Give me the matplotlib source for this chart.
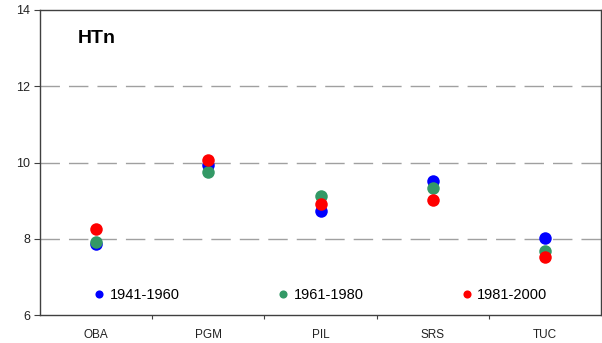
import matplotlib
matplotlib.use("Agg")
import matplotlib.pyplot as plt
import numpy as np

plt.rcParams['font.family'] = ['Liberation Sans', 'DejaVu Sans']

categories = ["OBA", "PGM", "PIL", "SRS", "TUC"]
series_names = ["1941-1960", "1961-1980", "1981-2000"]
v1941 = [7.86, 9.94, 8.74, 9.52, 8.01]
v1961 = [7.91, 9.76, 9.13, 9.34, 7.68]
v1981 = [8.25, 10.07, 8.90, 9.01, 7.53]
colors = ["#0000FF", "#339966", "#FF0000"]
yticks = [6, 8, 10, 12, 14]

fig = plt.figure(figsize=(6.02, 3.43), dpi=100)
ax = fig.add_axes([40/602, 1-315/343, 561/602, 305/343])

x = np.arange(len(categories))
for vals, c, name in zip([v1941, v1961, v1981], colors, series_names):
    ax.plot(x, vals, 'o', color=c, markersize=9, markeredgewidth=0, label=name, zorder=3)

ax.set_xlim(-0.5, len(categories) - 0.5)
ax.set_ylim(6, 14)
ax.set_yticks(yticks)
ax.set_yticklabels([str(t) for t in yticks], fontsize=9, color="#222222")
ax.set_xticks(np.arange(0.5, len(categories) - 1, 1))
ax.set_xticklabels([])
ax.set_xticks(x, minor=True)
ax.set_xticklabels(categories, minor=True, fontsize=8.5, color="#222222")
ax.tick_params(axis='x', which='minor', length=0, pad=10)
ax.tick_params(axis='x', which='major', length=3, direction='out', color="#404040")
ax.tick_params(axis='y', length=4, direction='out', color="#404040", pad=3)

for yv in [8, 10, 12]:
    ax.axhline(yv, color="#a0a0a0", linewidth=1.0, dashes=(14, 6.5), zorder=1)

for s in ax.spines.values():
    s.set_color("#404040")
    s.set_linewidth(1.0)

ax.text(0.068, 0.935, "HTn", transform=ax.transAxes, fontsize=14, fontweight='bold',
        ha='left', va='top')

leg = ax.legend(loc='lower center', bbox_to_anchor=(0.5, 0.0), ncol=3, frameon=False,
                fontsize=10.5, markerscale=0.65, handlelength=0.8, handletextpad=0.3,
                columnspacing=6.7)

fig.savefig("out.png", dpi=100)
